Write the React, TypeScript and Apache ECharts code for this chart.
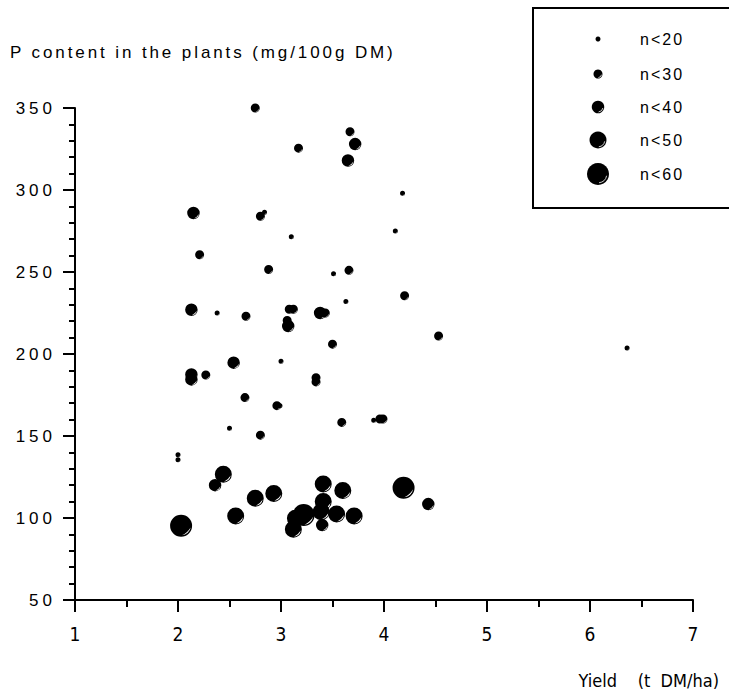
import React, { useEffect, useRef } from "react";
import * as echarts from "echarts";

// Yield (t DM/ha)
const yieldValues = [
  2.75, 3.67, 3.72, 3.17, 3.65, 4.18, 2.15, 2.8, 2.84, 4.11,
  3.1, 2.21, 2.88, 3.51, 3.66, 4.2, 3.63, 2.13, 2.38, 2.66,
  3.08, 3.12, 3.06, 3.07, 3.38, 3.43, 4.53, 3.5, 2.54, 3.0,
  2.13, 2.13, 2.27, 3.34, 3.34, 2.65, 2.96, 2.99, 3.59, 3.9,
  3.96, 3.99, 2.5, 2.8, 2.0, 2.0, 2.44, 2.36, 2.03, 2.56,
  2.75, 2.93, 3.41, 3.6, 4.19, 4.43, 3.71, 3.54, 3.22, 3.12,
  3.14, 3.41, 3.39, 3.4, 6.36,
];
// P content in the plants (mg/100g DM)
const pContent = [
  350, 335.5, 328, 325.5, 318, 298, 286, 284, 286.5, 275,
  271.5, 260.5, 251.5, 249, 251, 235.5, 232, 227, 225, 223,
  227.3, 227.3, 220.5, 217, 225, 225, 211, 206, 194.7, 195.6,
  187.5, 184.5, 187.2, 185.5, 183, 173.4, 168.5, 168.5, 158.3, 159.6,
  160.4, 160.4, 154.7, 150.5, 138.5, 135.5, 126.7, 120, 95.3, 101.2,
  112, 115, 120.7, 116.7, 118.5, 108.5, 101.2, 102.4, 101.8, 93.1,
  99.8, 110, 103.8, 95.7, 203.7,
];
// size class: 1 = n<20 ... 5 = n<60
const nClass = [
  2, 2, 3, 2, 3, 1, 3, 2, 1, 1,
  1, 2, 2, 1, 2, 2, 1, 3, 1, 2,
  2, 2, 2, 3, 3, 2, 2, 2, 3, 1,
  3, 3, 2, 2, 2, 2, 2, 1, 2, 1,
  2, 2, 1, 2, 1, 1, 4, 3, 5, 4,
  4, 4, 4, 4, 5, 3, 4, 4, 5, 4,
  4, 4, 4, 3, 1,
];
const classLabels = ["n<20", "n<30", "n<40", "n<50", "n<60"];
const classSizes = [5, 9, 12.5, 17, 22];

const bubble =
  "path://M50,0A50,50,0,1,1,50,100A50,50,0,1,1,50,0ZM53.83,93.83A44,44,0,0,0,93.33,57.64A90,90,0,0,1,53.83,93.83Z";

const FONT = '"Liberation Sans", Arial, sans-serif';
const NARROW = '"Liberation Sans Narrow", "DejaVu Sans Condensed", sans-serif';

export default function App() {
  const ref = useRef<HTMLDivElement>(null);
  useEffect(() => {
    const el = ref.current!;
    const chart = echarts.init(el, null, { renderer: "svg" });
    const data = yieldValues.map((x, i) => [x, pContent[i], nClass[i]]);
    const legendRows = [39, 74, 107, 140, 174];
    const legendItems: any[] = [];
    classLabels.forEach((lab, i) => {
      const r = classSizes[i] / 2;
      legendItems.push({
        type: "circle",
        shape: { cx: 598, cy: legendRows[i], r },
        style: { fill: "#000" },
        z: 11,
      });
      if (i > 0)
        legendItems.push({
          type: "arc",
          shape: { cx: 598, cy: legendRows[i], r: r * 0.8, startAngle: 0.2, endAngle: 1.45, clockwise: true },
          style: { stroke: "#fff", lineWidth: 0.8, fill: null },
          z: 12,
        });
      legendItems.push({
        type: "text",
        x: 640,
        y: legendRows[i],
        style: { text: lab, font: `16px ${FONT}`, fill: "#000", verticalAlign: "middle", align: "left" },
        z: 11,
      });
    });
    chart.setOption({
      animation: false,
      backgroundColor: "#fff",
      grid: { left: 75, right: 36, top: 108, bottom: 95, containLabel: false },
      xAxis: {
        type: "value",
        min: 1,
        max: 7,
        interval: 1,
        axisLine: { show: true, onZero: false, lineStyle: { color: "#000", width: 2 } },
        axisTick: { show: true, length: 12, lineStyle: { color: "#000", width: 2 } },
        minorTick: { show: true, splitNumber: 2, length: 7, lineStyle: { color: "#000", width: 2 } },
        splitLine: { show: false },
        axisLabel: { color: "#000", fontFamily: NARROW, fontSize: 19, margin: 24 },
      },
      yAxis: {
        type: "value",
        min: 50,
        max: 350,
        interval: 50,
        axisLine: { show: true, onZero: false, lineStyle: { color: "#000", width: 2 } },
        axisTick: { show: true, length: 12, lineStyle: { color: "#000", width: 2 } },
        minorTick: { show: true, splitNumber: 5, length: 6, lineStyle: { color: "#000", width: 2 } },
        splitLine: { show: false },
        axisLabel: { color: "#000", fontFamily: FONT, fontSize: 17, margin: 19 },
      },
      series: [
        {
          type: "scatter",
          data,
          clip: false,
          symbol: bubble,
          symbolSize: (v: number[]) => classSizes[v[2] - 1],
          itemStyle: { color: "#000", opacity: 1 },
          silent: true,
        },
      ],
      graphic: [
        {
          type: "text",
          x: 10,
          y: 52,
          style: { text: "P content in the plants (mg/100g DM)", font: `17px ${FONT}`, fill: "#000", verticalAlign: "middle" },
        },
        {
          type: "text",
          x: 719,
          y: 680,
          style: { text: "Yield    (t  DM/ha)", font: `18px ${NARROW}`, fill: "#000", verticalAlign: "middle", align: "right" },
        },
        {
          type: "rect",
          shape: { x: 533, y: 8, width: 210, height: 200 },
          style: { fill: "#fff", stroke: "#000", lineWidth: 2 },
          z: 10,
        },
        ...legendItems,
      ],
    });
    const applySpacing = () => {
      el.querySelectorAll("svg text").forEach((t) => {
        const s = t.textContent || "";
        if (/^\d+$/.test(s) && s.length >= 2) t.setAttribute("letter-spacing", "4");
        else if (s.startsWith("P content")) t.setAttribute("letter-spacing", "2.9");
        else if (s.startsWith("n<")) t.setAttribute("letter-spacing", "2");
      });
    };
    applySpacing();
    chart.on("finished", applySpacing);
    const raf = requestAnimationFrame(applySpacing);
    return () => {
      cancelAnimationFrame(raf);
      chart.dispose();
    };
  }, []);
  return (
    <div
      ref={ref}
      style={{ position: "absolute", left: 0, top: 0, width: 729, height: 695 }}
    />
  );
}
